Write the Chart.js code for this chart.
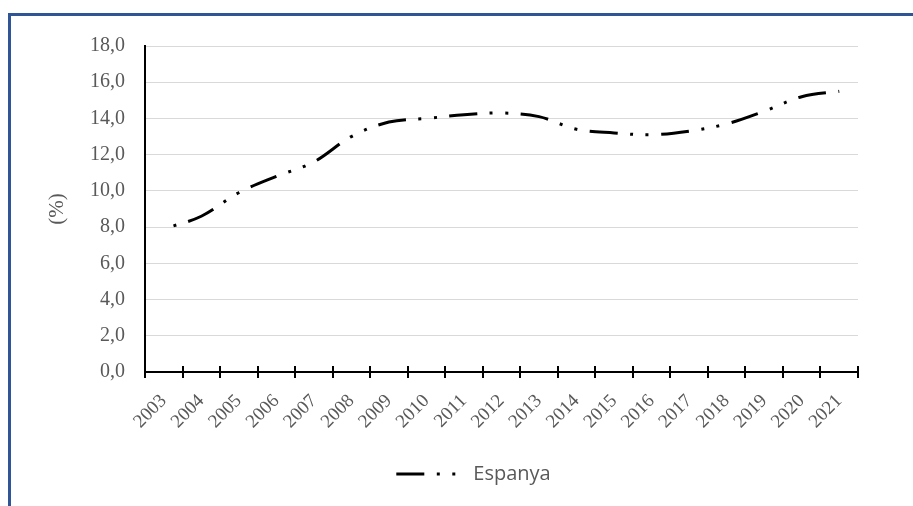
<!DOCTYPE html>
<html>
<head>
<meta charset="utf-8">
<title>Espanya (%)</title>
<script src="https://cdn.jsdelivr.net/npm/chart.js@4/dist/chart.umd.min.js"></script>
<style>
  html, body { margin: 0; padding: 0; background: #fff; overflow: hidden; }
  #wrap { position: relative; width: 913px; height: 506px; overflow: hidden; }
  #frame {
    position: absolute; left: 8px; top: 13px; width: 920px; height: 500px;
    border-top: 3px solid #2f5597; border-left: 3px solid #2f5597;
    pointer-events: none;
  }
  #chart { position: absolute; left: 0; top: 0; }
</style>
</head>
<body>
<div id="wrap">
  <canvas id="chart" width="947" height="506"></canvas>
  <div id="frame"></div>
</div>
<script>
// Data
const years = ['2003', '2004', '2005', '2006', '2007', '2008', '2009', '2010', '2011', '2012',
               '2013', '2014', '2015', '2016', '2017', '2018', '2019', '2020', '2021'];
const espanya = [7.9, 8.6, 9.9, 10.8, 11.6, 13.0, 13.8, 14.0, 14.2, 14.3,
                 14.1, 13.4, 13.2, 13.1, 13.3, 13.7, 14.4, 15.2, 15.5];
const yTicks = [0, 2, 4, 6, 8, 10, 12, 14, 16, 18];
const seriesLabel = 'Espanya';
const yTitle = '(%)';

const GREY = '#595959';
const SERIF = "'Liberation Serif', 'Times New Roman', serif";
const DASH = [28, 12.5, 3, 12.5, 3, 12.5]; // long dash, dot, dot

// small tick marks above the x axis (Excel draws them crossing the line)
const crossTicks = {
    id: 'crossTicks',
    afterDraw(chart) {
        const x = chart.scales.x;
        const ctx = chart.ctx;
        const half = (x.getPixelForValue(1) - x.getPixelForValue(0)) / 2;
        ctx.save();
        ctx.strokeStyle = '#000';
        ctx.lineWidth = 2;
        ctx.beginPath();
        for (let i = 0; i <= years.length; i++) {
            const px = Math.round(x.getPixelForValue(i) - half);
            ctx.moveTo(px, x.top - 6);
            ctx.lineTo(px, x.top);
        }
        ctx.stroke();
        ctx.restore();
    }
};

new Chart(document.getElementById('chart'), {
    type: 'line',
    data: {
        labels: years,
        datasets: [{
            label: seriesLabel,
            data: espanya,
            borderColor: '#000',
            backgroundColor: '#000',
            borderWidth: 3,
            borderDash: DASH,
            borderDashOffset: 46,
            borderCapStyle: 'butt',
            pointRadius: 0,
            tension: 0.35,
            fill: false
        }]
    },
    options: {
        responsive: false,
        animation: false,
        layout: { padding: { top: 46, left: 0, right: 0, bottom: 12 } },
        scales: {
            x: {
                type: 'category',
                offset: true,
                grid: {
                    offset: true,
                    drawOnChartArea: false,
                    drawTicks: true,
                    tickLength: 6,
                    color: '#000',
                    lineWidth: 2
                },
                border: { color: '#000', width: 2 },
                ticks: {
                    color: GREY,
                    font: { family: SERIF, size: 19 },
                    maxRotation: 45,
                    minRotation: 45,
                    autoSkip: false,
                    padding: 12
                },
                afterFit(scale) { scale.height = 82; }
            },
            y: {
                position: 'left',
                min: 0,
                max: 18,
                afterBuildTicks(scale) { scale.ticks = yTicks.map(v => ({ value: v })); },
                grid: { color: '#d9d9d9', lineWidth: 1, drawTicks: false },
                border: { color: '#000', width: 2 },
                ticks: {
                    color: GREY,
                    font: { family: SERIF, size: 20 },
                    padding: 20,
                    callback: v => v.toFixed(1).replace('.', ',')
                },
                title: {
                    display: true,
                    text: yTitle,
                    color: GREY,
                    font: { family: SERIF, size: 21 },
                    padding: { top: 45, bottom: 0 }
                },
                afterFit(scale) { scale.width = 145; }
            },
            // empty right-hand box so the legend centres like the original
            spacer: {
                position: 'right',
                display: true,
                grid: { display: false },
                border: { display: false },
                ticks: { display: false },
                afterFit(scale) { scale.width = 89; }
            }
        },
        plugins: {
            legend: {
                position: 'bottom',
                labels: {
                    color: GREY,
                    font: { family: "'Open Sans', sans-serif", size: 20 },
                    usePointStyle: true,
                    pointStyle: 'line',
                    pointStyleWidth: 67,
                    padding: 10,
                    generateLabels(chart) {
                        const items = Chart.defaults.plugins.legend.labels.generateLabels(chart);
                        items.forEach(it => {
                            it.lineDash = DASH;
                            it.lineDashOffset = 0;
                            it.lineWidth = 3;
                            it.strokeStyle = '#000';
                        });
                        return items;
                    }
                }
            },
            tooltip: { enabled: false }
        }
    },
    plugins: [crossTicks]
});
</script>
</body>
</html>
